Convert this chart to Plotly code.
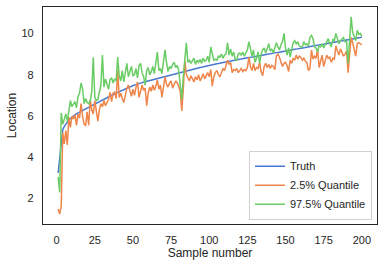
import plotly.graph_objects as go

sample = list(range(1, 201))

truth = [
    3.25, 3.95, 4.65, 5.35, 5.50, 5.62, 5.72, 5.80, 5.88, 5.95,
    6.00, 6.05, 6.10, 6.15, 6.19, 6.23, 6.27, 6.31, 6.35, 6.39,
    6.43, 6.47, 6.51, 6.55, 6.59, 6.63, 6.67, 6.71, 6.75, 6.79,
    6.83, 6.87, 6.90, 6.94, 6.97, 7.01, 7.04, 7.08, 7.11, 7.15,
    7.18, 7.21, 7.25, 7.28, 7.31, 7.34, 7.38, 7.41, 7.44, 7.47,
    7.50, 7.52, 7.55, 7.57, 7.60, 7.62, 7.64, 7.66, 7.68, 7.70,
    7.72, 7.74, 7.76, 7.78, 7.80, 7.82, 7.84, 7.86, 7.88, 7.90,
    7.92, 7.94, 7.96, 7.98, 8.00, 8.02, 8.04, 8.06, 8.08, 8.10,
    8.12, 8.14, 8.15, 8.17, 8.19, 8.21, 8.22, 8.24, 8.26, 8.28,
    8.29, 8.31, 8.33, 8.35, 8.36, 8.38, 8.40, 8.42, 8.43, 8.45,
    8.47, 8.48, 8.50, 8.51, 8.53, 8.54, 8.56, 8.57, 8.59, 8.60,
    8.62, 8.63, 8.65, 8.66, 8.68, 8.69, 8.71, 8.72, 8.74, 8.75,
    8.76, 8.78, 8.79, 8.80, 8.82, 8.83, 8.84, 8.86, 8.87, 8.88,
    8.90, 8.91, 8.92, 8.94, 8.95, 8.96, 8.98, 8.99, 9.00, 9.02,
    9.03, 9.04, 9.06, 9.07, 9.08, 9.10, 9.11, 9.12, 9.14, 9.15,
    9.16, 9.18, 9.19, 9.20, 9.22, 9.23, 9.24, 9.26, 9.27, 9.28,
    9.30, 9.31, 9.32, 9.34, 9.35, 9.36, 9.38, 9.39, 9.40, 9.42,
    9.43, 9.44, 9.46, 9.47, 9.48, 9.50, 9.51, 9.52, 9.54, 9.55,
    9.56, 9.58, 9.59, 9.60, 9.62, 9.63, 9.64, 9.66, 9.67, 9.68,
    9.70, 9.71, 9.72, 9.74, 9.75, 9.76, 9.78, 9.79, 9.80, 9.82,
]

q025 = [
    1.50, 1.25, 1.65, 5.20, 4.65, 5.30, 4.60, 5.95, 5.45, 6.00,
    5.85, 6.05, 5.55, 6.10, 5.90, 6.60, 6.00, 5.60, 5.55, 6.20,
    5.55, 6.80, 6.30, 6.10, 6.75, 6.20, 5.75, 6.30, 6.60, 6.45,
    6.75, 6.50, 6.65, 6.80, 7.15, 6.70, 7.10, 7.15, 6.85, 8.20,
    6.90, 7.10, 6.85, 6.65, 7.00, 7.35, 7.50, 7.25, 6.95, 7.30,
    7.00, 7.40, 7.65, 6.90, 7.30, 7.50, 7.25, 7.35, 6.50, 7.10,
    7.40, 7.20, 7.50, 7.25, 7.45, 7.75, 7.30, 7.50, 6.90, 7.45,
    7.90, 7.55, 7.40, 7.60, 7.70, 7.35, 7.55, 7.70, 7.60, 7.45,
    7.20, 6.25, 7.30, 8.70, 8.00, 7.80, 7.70, 7.95, 7.80, 7.65,
    7.90, 7.75, 8.00, 7.70, 7.85, 8.05, 7.80, 7.95, 8.10, 7.90,
    8.25, 7.45, 7.90, 8.10, 8.20, 8.00, 7.90, 8.10, 8.30, 8.20,
    8.45, 8.70, 8.50, 8.60, 8.10, 8.25, 8.20, 8.30, 8.10, 8.20,
    8.30, 8.15, 8.25, 8.20, 8.35, 8.85, 8.40, 8.20, 8.55, 8.20,
    8.35, 8.30, 8.60, 8.15, 7.95, 8.40, 8.55, 8.35, 8.50, 8.30,
    8.45, 8.40, 8.25, 8.90, 9.00, 8.85, 8.60, 8.40, 8.55, 8.60,
    8.45, 8.15, 8.70, 8.55, 8.80, 8.70, 8.95, 8.75, 8.90, 8.85,
    8.70, 8.80, 8.65, 8.60, 8.20, 8.30, 9.20, 8.75, 8.90, 8.80,
    9.25, 8.35, 8.65, 8.95, 8.40, 8.70, 8.95, 8.80, 8.85, 8.60,
    8.80, 8.75, 9.40, 9.15, 8.95, 9.25, 9.05, 8.90, 9.00, 9.15,
    8.10, 9.20, 9.80, 9.55, 9.25, 8.90, 9.50, 9.55, 9.50, 9.45,
]

q975 = [
    3.05, 2.30, 6.15, 5.60, 5.85, 6.10, 5.75, 6.20, 6.75, 6.45,
    6.55, 6.70, 6.40, 6.95, 7.10, 7.60, 7.30, 6.60, 6.85, 6.65,
    6.60, 6.70, 7.20, 8.85, 6.90, 6.75, 6.80, 7.10, 7.50, 8.95,
    7.40, 7.80, 7.55, 7.30, 7.75, 7.85, 7.60, 7.80, 7.70, 8.85,
    7.95, 7.70, 8.20, 7.65, 8.10, 8.55, 7.90, 8.20, 8.40, 7.95,
    8.00, 8.30, 7.85, 8.45, 8.55, 8.10, 7.90, 7.50, 8.20, 8.35,
    8.00, 8.15, 8.40, 8.05, 8.70, 9.10, 8.20, 8.30, 8.05, 8.60,
    9.20, 8.60, 8.15, 8.40, 8.30, 8.50, 8.60, 8.35, 8.45, 8.20,
    7.60, 6.80, 7.90, 8.70, 9.55, 8.60, 8.70, 8.55, 8.65, 8.80,
    8.50, 8.70, 8.60, 8.75, 8.55, 8.80, 8.65, 8.70, 8.90, 8.60,
    9.35, 8.95, 8.70, 8.75, 8.70, 8.90, 8.85, 9.00, 8.80, 8.95,
    9.00, 9.55, 8.95, 9.25, 8.90, 9.10, 8.75, 8.70, 9.00, 9.05,
    8.95, 9.10, 8.90, 9.05, 9.20, 9.60, 9.15, 8.90, 9.20, 8.60,
    8.80, 9.10, 8.55, 9.00, 9.20, 9.30, 9.05, 9.25, 9.50, 9.15,
    9.25, 9.05, 9.30, 9.55, 9.35, 9.20, 9.45, 9.60, 10.00, 9.30,
    8.95, 9.30, 8.85, 9.20, 9.55, 9.65, 9.50, 9.60, 9.40, 9.35,
    9.35, 9.60, 9.45, 9.50, 9.40, 9.80, 9.90, 9.75, 9.35, 9.30,
    9.10, 9.40, 9.35, 9.50, 9.30, 9.45, 9.60, 9.75, 9.50, 9.35,
    9.70, 9.65, 10.00, 9.80, 9.50, 9.65, 9.75, 9.80, 9.60, 9.60,
    8.55, 9.90, 10.80, 10.05, 9.85, 9.65, 10.15, 9.95, 10.00, 9.85,
]

x_ticks = [0, 25, 50, 75, 100, 125, 150, 175, 200]
y_ticks = [2, 4, 6, 8, 10]

series_names = ["Truth", "2.5% Quantile", "97.5% Quantile"]
series_colors = ["#4878D0", "#EE854A", "#6ACC64"]

fig = go.Figure()
for name, vals, col in zip(series_names, [truth, q025, q975], series_colors):
    fig.add_trace(go.Scatter(x=sample, y=vals, mode="lines", name=name,
                             line=dict(color=col, width=1.5)))

FONT = "Liberation Sans, Arial, sans-serif"
TXT = "#262626"

fig.update_layout(
    width=384, height=265,
    margin=dict(l=43, r=7, t=7, b=41),
    paper_bgcolor="white", plot_bgcolor="white",
    font=dict(family=FONT, size=11, color=TXT),
    showlegend=True,
    legend=dict(x=0.985, y=0.02, xanchor="right", yanchor="bottom",
                bgcolor="white", bordercolor="#D0D0D0", borderwidth=1,
                font=dict(size=11, color=TXT), tracegroupgap=0,
                itemwidth=30),
)
fig.update_xaxes(
    range=[-8.95, 209.95], tickvals=x_ticks, showgrid=False, zeroline=False,
    showline=True, mirror=True, linecolor=TXT, linewidth=1.25,
    ticks="outside", ticklen=6, tickcolor="rgba(0,0,0,0)",
    tickfont=dict(size=11, color=TXT), automargin=False,
    title=dict(text="Sample number", font=dict(size=12, color=TXT), standoff=2),
)
fig.update_yaxes(
    range=[0.77, 11.28], tickvals=y_ticks, showgrid=False, zeroline=False,
    showline=True, mirror=True, linecolor=TXT, linewidth=1.25,
    ticks="outside", ticklen=6, tickcolor="rgba(0,0,0,0)",
    tickfont=dict(size=11, color=TXT), automargin=False,
    title=dict(text="Location", font=dict(size=12, color=TXT), standoff=2),
)

fig.write_html(
    "out.html",
    config={"displayModeBar": False},
    post_script="document.body.style.margin='0';document.body.style.padding='0';",
)
